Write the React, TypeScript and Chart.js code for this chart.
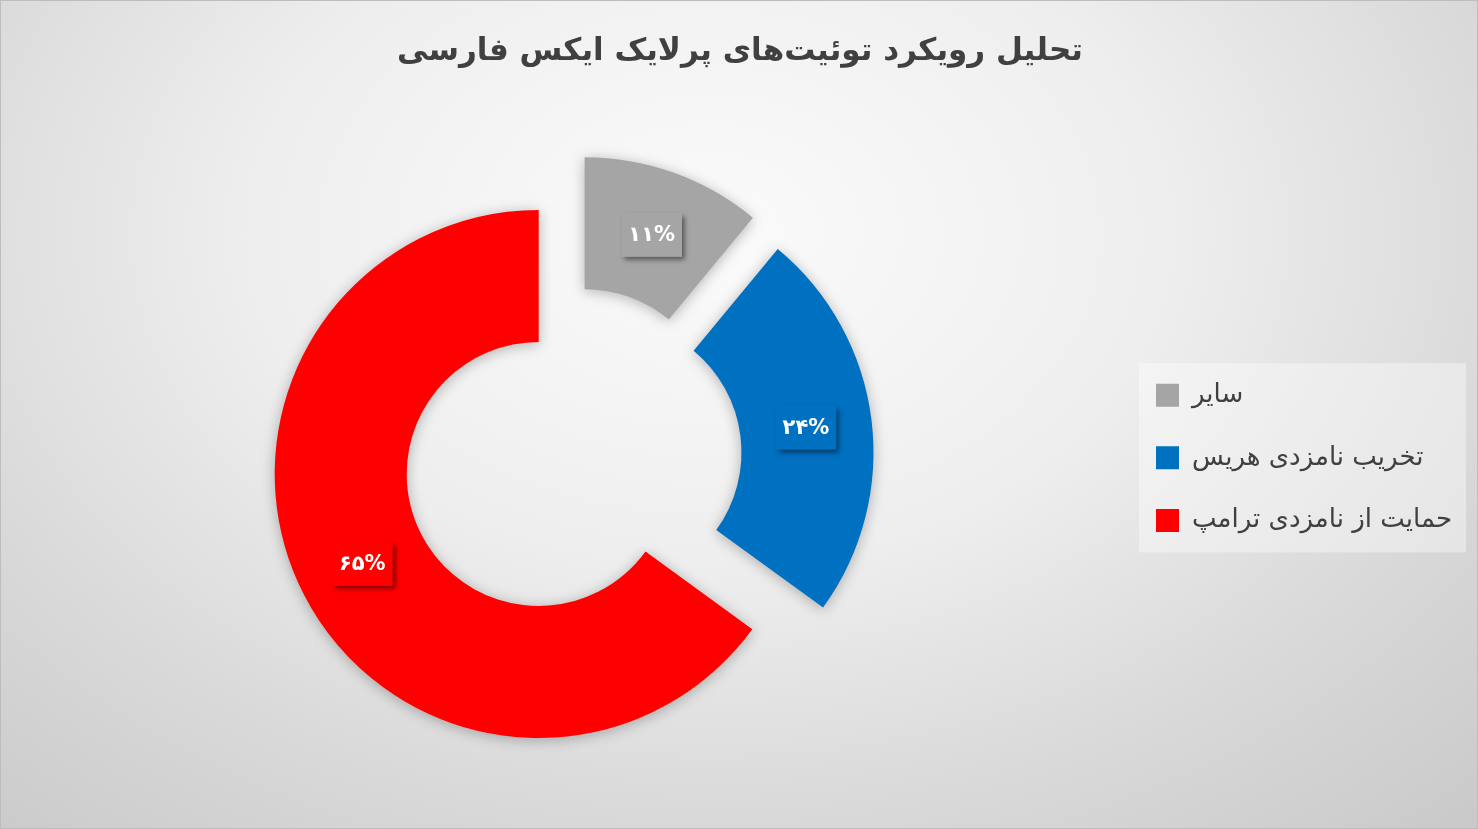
import React, { useEffect, useRef } from 'react';
import { Chart, registerables } from 'chart.js';

Chart.register(...registerables);

// chart data
const TITLE = 'تحلیل رویکرد توئیت‌های پرلایک ایکس فارسی';
const CATEGORIES = ['سایر', 'تخریب نامزدی هریس', 'حمایت از نامزدی ترامپ'];
const SHARES = [11, 24, 65];
const COLORS = ['#A5A5A5', '#0070C0', '#FF0000'];

// exploded slices: distance (px) and direction (deg, clockwise from 12 o'clock)
const EXPLODE = [
  { dist: 70, angle: 41 },
  { dist: 74, angle: 73 },
  { dist: 0, angle: 0 },
];

const FONT = '"DejaVu Sans", "Noto Sans", sans-serif';
const LEGEND_W = 402.6;

const toFa = (s: string) => s.replace(/\d/g, (d) => '۰۱۲۳۴۵۶۷۸۹'[+d]);

const explodePlugin = {
  id: 'explode',
  afterDatasetsUpdate(chart: any) {
    const meta = chart.getDatasetMeta(0);
    meta.data.forEach((arc: any, i: number) => {
      const e = EXPLODE[i];
      if (!e) return;
      const a = (e.angle * Math.PI) / 180;
      arc.x += e.dist * Math.sin(a);
      arc.y -= e.dist * Math.cos(a);
    });
  },
  beforeDatasetsDraw(chart: any) {
    const ctx = chart.ctx;
    ctx.save();
    ctx.shadowColor = 'rgba(0,0,0,0.28)';
    ctx.shadowBlur = 14;
    ctx.shadowOffsetX = 0;
    ctx.shadowOffsetY = 2;
  },
  afterDatasetsDraw(chart: any) {
    const ctx = chart.ctx;
    ctx.restore();
    const meta = chart.getDatasetMeta(0);
    const values = chart.data.datasets[0].data as number[];
    const total = values.reduce((s, v) => s + v, 0);
    meta.data.forEach((arc: any, i: number) => {
      const { x, y } = arc.tooltipPosition(false);
      const text = toFa(String(Math.round((values[i] / total) * 100))) + '%';
      ctx.save();
      ctx.font = `bold 21px ${FONT}`;
      const w = ctx.measureText(text).width + 14;
      const h = 44;
      ctx.shadowColor = 'rgba(0,0,0,0.5)';
      ctx.shadowBlur = 5;
      ctx.shadowOffsetX = 3;
      ctx.shadowOffsetY = 3;
      ctx.fillStyle = COLORS[i];
      ctx.fillRect(x - w / 2, y - h / 2, w, h);
      ctx.shadowColor = 'transparent';
      ctx.fillStyle = '#ffffff';
      ctx.textAlign = 'center';
      ctx.textBaseline = 'middle';
      ctx.fillText(text, x, y + 1);
      ctx.restore();
    });
  },
};

const legendPanelPlugin = {
  id: 'legendPanel',
  afterInit(chart: any) {
    const lg = chart.legend;
    if (!lg) return;
    const fit = lg.fit.bind(lg);
    lg.fit = () => {
      fit();
      lg.width = LEGEND_W;
    };
  },
  beforeDraw(chart: any) {
    const lg = chart.legend;
    const boxes = lg && lg.legendHitBoxes;
    if (!boxes || !boxes.length) return;
    const top = boxes[0].top;
    const last = boxes[boxes.length - 1];
    const left = boxes[0].left - 17;
    const ctx = chart.ctx;
    ctx.save();
    ctx.fillStyle = 'rgba(255,255,255,0.38)';
    ctx.fillRect(left, top - 19, 327, last.top + last.height - top + 38);
    ctx.restore();
  },
};

const App: React.FC = () => {
  const canvasRef = useRef<HTMLCanvasElement>(null);
  const chartRef = useRef<Chart | null>(null);

  useEffect(() => {
    if (!canvasRef.current) return;
    if (chartRef.current) chartRef.current.destroy();
    chartRef.current = new Chart(canvasRef.current, {
      type: 'doughnut',
      data: {
        labels: CATEGORIES,
        datasets: [
          {
            data: SHARES,
            backgroundColor: COLORS,
            borderWidth: 0,
          },
        ],
      },
      options: {
        animation: false,
        responsive: true,
        maintainAspectRatio: false,
        events: [],
        radius: 264,
        cutout: '50%',
        layout: { padding: 0 },
        plugins: {
          tooltip: { enabled: false },
          title: {
            display: true,
            text: TITLE,
            color: '#404040',
            font: { family: FONT, size: 31, weight: 'bold' },
            padding: { top: 32, bottom: 47.8 },
          },
          legend: {
            display: true,
            position: 'right',
            align: 'center',
            title: { display: true, text: '', font: { size: 10 }, padding: { top: 72.6, bottom: 0 } },
            labels: {
              boxWidth: 23,
              boxHeight: 23,
              padding: 36.6,
              color: '#404040',
              font: { family: FONT, size: 26 },
            },
          },
        },
      } as any,
      plugins: [explodePlugin, legendPanelPlugin],
    });
    return () => {
      if (chartRef.current) {
        chartRef.current.destroy();
        chartRef.current = null;
      }
    };
  }, []);

  return (
    <div
      style={{
        position: 'fixed',
        left: 0,
        top: 0,
        width: 1478,
        height: 829,
        overflow: 'hidden',
        boxSizing: 'border-box',
        border: '1px solid #bdbdbd',
        background:
          'radial-gradient(ellipse 78% 100% at 48% 28%, #fbfbfb 0%, #eeeeee 40%, #d8d8d8 72%, #c8c8c8 100%)',
      }}
    >
      <div style={{ position: 'absolute', left: -43, top: 0, width: 1564, height: 829 }}>
        <canvas ref={canvasRef}></canvas>
      </div>
    </div>
  );
};

export default App;
